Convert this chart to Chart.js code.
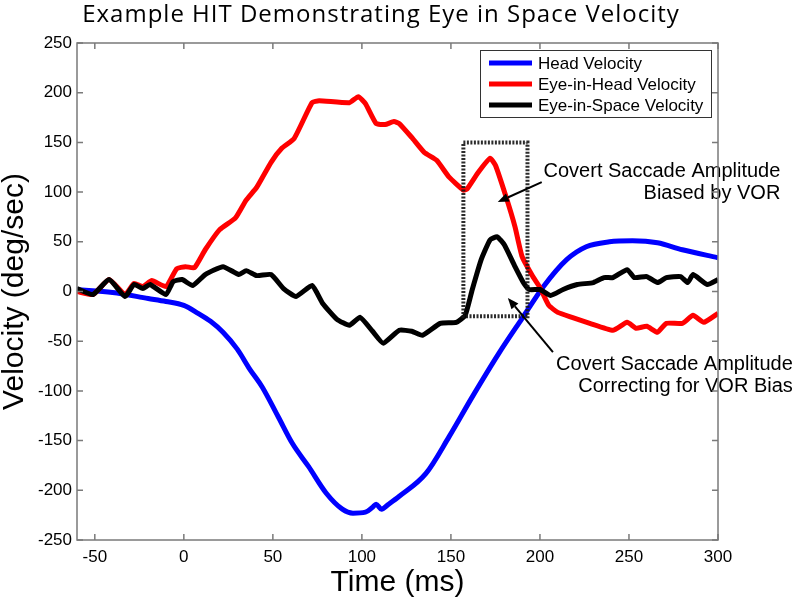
<!DOCTYPE html>
<html>
<head>
<meta charset="utf-8">
<script src="https://cdn.jsdelivr.net/npm/chart.js@4.4.1/dist/chart.umd.min.js"></script>
<style>
  html, body { margin: 0; padding: 0; background: #fff; }
  #wrap { width: 794px; height: 601px; }
</style>
</head>
<body>
<div id="wrap"><canvas id="chart_hit"></canvas></div>
<script>
// chart text
const chartTitle = 'Example HIT Demonstrating Eye in Space Velocity';
const xTitle = 'Time (ms)';
const yTitle = 'Velocity (deg/sec)';
const seriesLabels = ['Head Velocity', 'Eye-in-Head Velocity', 'Eye-in-Space Velocity'];

// axis ticks
const xTicks = [-50, 0, 50, 100, 150, 200, 250, 300];
const yTicks = [-250, -200, -150, -100, -50, 0, 50, 100, 150, 200, 250];

// head velocity (blue)
const headTime = [-60, -40, -20, -10, 0, 8, 15, 22, 30, 37, 44, 53, 61, 70, 80, 89, 95, 102, 106, 108, 111, 115, 121, 136, 149, 162, 177, 190, 202, 215, 226, 239, 252, 266, 280, 300];
const headVel  = [2, -1, -7, -10, -14, -22, -30, -41, -58, -78, -96, -126, -153, -176, -203, -219, -223, -222, -217, -214, -219, -214, -206, -183, -146, -106, -62, -27, 5, 32, 45, 50, 51, 49, 42, 34];

// eye-in-head velocity (red)
const eyeHeadTime = [-60, -51, -42, -33, -28, -23, -18, -10, -4, 1, 6, 12, 20, 29, 35, 41, 49, 55, 62, 72, 76, 93, 98, 102, 108, 113, 118, 121, 128, 135, 142, 149, 157, 159, 165, 172, 175, 181, 186, 190, 196, 200, 205, 210, 218, 228, 241, 249, 254, 260, 266, 271, 280, 286, 292, 300];
const eyeHeadVel  = [0, -3, 12, -3, 8, 5, 11, 5, 23, 25, 24, 42, 62, 74, 92, 105, 130, 144, 154, 190, 192, 190, 196, 189, 169, 168, 171, 169, 155, 140, 132, 115, 102, 103, 119, 134, 127, 95, 65, 35, 15, 4, -14, -21, -26, -32, -39, -31, -37, -35, -41, -32, -32, -24, -31, -22];

// eye-in-space velocity (black)
const eyeSpaceTime = [-60, -51, -42, -33, -28, -23, -19, -10, -6, -1, 5, 12, 22, 31, 35, 41, 49, 56, 63, 72, 78, 86, 93, 99, 106, 112, 121, 128, 134, 144, 153, 158, 162, 167, 172, 176, 180, 186, 191, 194, 200, 206, 213, 221, 230, 236, 241, 249, 253, 260, 266, 271, 279, 283, 286, 294, 300];
const eyeSpaceVel  = [3, -3, 12, -5, 7, 3, 7, -3, 10, 12, 6, 17, 25, 17, 21, 16, 17, 3, -5, 6, -12, -28, -34, -26, -40, -52, -39, -40, -44, -32, -31, -24, 2, 32, 52, 55, 47, 25, 8, 2, 2, -4, 2, 7, 9, 14, 14, 22, 14, 15, 9, 14, 15, 9, 17, 7, 12];

// dotted box round the covert saccade
const boxTime = [157, 193, 193, 157, 157];
const boxVel  = [150, 150, -25, -25, 150];

// annotations (data coordinates)
const noteLines = [
  ['Covert Saccade Amplitude', 'Biased by VOR'],
  ['Covert Saccade Amplitude', 'Correcting for VOR Bias']
];
const noteAnchor = [[335, 115], [342, -79]];     // right end of first line, baseline
const arrowTail  = [[201, 110], [207.3, -61]];
const arrowHead  = [[176.3, 90], [182, -6.5]];

function toPoints(xs, ys) {
  return xs.map((x, i) => ({ x: x, y: ys[i] }));
}

const AXIS_GRAY = '#7a7a7a';
const TICK_FONT = '17px "Liberation Sans", Arial, sans-serif';

const matlabFrame = {
  id: 'matlabFrame',
  afterDatasetsDraw(chart) {
    const ctx = chart.ctx;
    const a = chart.chartArea;
    const xs = chart.scales.x, ys = chart.scales.y;
    ctx.save();

    // annotation text + arrows
    ctx.fillStyle = '#000';
    ctx.font = '20px "Liberation Sans", Arial, sans-serif';
    ctx.textAlign = 'right';
    ctx.textBaseline = 'alphabetic';
    noteLines.forEach((lines, i) => {
      const px = xs.getPixelForValue(noteAnchor[i][0]);
      const py = ys.getPixelForValue(noteAnchor[i][1]);
      lines.forEach((t, j) => ctx.fillText(t, px, py + j * 22));
    });
    arrowTail.forEach((tail, i) => {
      const x0 = xs.getPixelForValue(tail[0]), y0 = ys.getPixelForValue(tail[1]);
      const x1 = xs.getPixelForValue(arrowHead[i][0]), y1 = ys.getPixelForValue(arrowHead[i][1]);
      const ang = Math.atan2(y1 - y0, x1 - x0);
      const len = 11, half = 4.5;
      const bx = x1 - len * Math.cos(ang), by = y1 - len * Math.sin(ang);
      ctx.strokeStyle = '#000';
      ctx.lineWidth = 2;
      ctx.beginPath();
      ctx.moveTo(x0, y0);
      ctx.lineTo(bx, by);
      ctx.stroke();
      ctx.beginPath();
      ctx.moveTo(x1, y1);
      ctx.lineTo(bx + half * Math.sin(ang), by - half * Math.cos(ang));
      ctx.lineTo(bx - half * Math.sin(ang), by + half * Math.cos(ang));
      ctx.closePath();
      ctx.fill();
    });

    // box and inward ticks
    ctx.strokeStyle = AXIS_GRAY;
    ctx.lineWidth = 1.5;
    ctx.strokeRect(a.left, a.top, a.right - a.left, a.bottom - a.top);
    ctx.beginPath();
    xTicks.forEach(v => {
      const p = xs.getPixelForValue(v);
      ctx.moveTo(p, a.bottom); ctx.lineTo(p, a.bottom - 6);
      ctx.moveTo(p, a.top); ctx.lineTo(p, a.top + 6);
    });
    yTicks.forEach(v => {
      const p = ys.getPixelForValue(v);
      ctx.moveTo(a.left, p); ctx.lineTo(a.left + 6, p);
      ctx.moveTo(a.right, p); ctx.lineTo(a.right - 6, p);
    });
    ctx.stroke();

    // legend
    const lx = 480, ly = 50, lw = 231, lh = 67;
    ctx.fillStyle = '#fff';
    ctx.fillRect(lx, ly, lw, lh);
    ctx.strokeStyle = '#333';
    ctx.lineWidth = 1;
    ctx.strokeRect(lx + 0.5, ly + 0.5, lw, lh);
    ctx.font = TICK_FONT;
    ctx.textAlign = 'left';
    ctx.textBaseline = 'middle';
    const colors = chart.data.datasets.slice(0, 3).map(d => d.borderColor);
    seriesLabels.forEach((lab, i) => {
      const y = ly + 13 + i * 21;
      ctx.strokeStyle = colors[i];
      ctx.lineWidth = 5;
      ctx.beginPath();
      ctx.moveTo(489, y); ctx.lineTo(532, y);
      ctx.stroke();
      ctx.fillStyle = '#000';
      ctx.fillText(lab, 538, y + 1);
    });

    // title
    ctx.font = '24px "Open Sans", sans-serif';
    ctx.letterSpacing = '1px';
    ctx.textAlign = 'center';
    ctx.textBaseline = 'middle';
    ctx.fillStyle = '#000';
    ctx.fillText(chartTitle, 381, 15);
    ctx.restore();
  }
};

const chart = new Chart('chart_hit', {
  type: 'line',
  data: {
    datasets: [
      {
        label: seriesLabels[0],
        data: toPoints(headTime, headVel),
        borderColor: '#0000ff',
        borderWidth: 5,
        pointRadius: 0,
        cubicInterpolationMode: 'monotone',
        order: 3
      },
      {
        label: seriesLabels[1],
        data: toPoints(eyeHeadTime, eyeHeadVel),
        borderColor: '#ff0000',
        borderWidth: 5,
        pointRadius: 0,
        tension: 0.15,
        order: 2
      },
      {
        label: seriesLabels[2],
        data: toPoints(eyeSpaceTime, eyeSpaceVel),
        borderColor: '#000000',
        borderWidth: 5,
        pointRadius: 0,
        tension: 0.15,
        order: 1
      },
      {
        label: 'box',
        data: toPoints(boxTime, boxVel),
        borderColor: 'rgba(20,20,20,0.9)',
        borderWidth: 4,
        borderDash: [2, 1.5],
        pointRadius: 0,
        tension: 0,
        order: 0
      }
    ]
  },
  options: {
    responsive: true,
    maintainAspectRatio: false,
    animation: false,
    layout: { padding: { top: 43, right: 76, bottom: 0, left: 0 } },
    plugins: {
      legend: { display: false },
      tooltip: { enabled: false },
      title: { display: false }
    },
    scales: {
      x: {
        type: 'linear',
        min: -60,
        max: 300,
        afterBuildTicks: s => { s.ticks = xTicks.map(v => ({ value: v })); },
        afterFit: s => { s.height = 61; },
        grid: { display: false, drawTicks: false },
        border: { display: false },
        ticks: { color: '#000', padding: 7, maxRotation: 0, font: { family: '"Liberation Sans", Arial, sans-serif', size: 17 } },
        title: { display: true, text: xTitle, color: '#000', padding: { top: 0, bottom: 3 }, font: { family: '"Liberation Sans", Arial, sans-serif', size: 30, lineHeight: 1 } }
      },
      y: {
        min: -250,
        max: 250,
        afterBuildTicks: s => { s.ticks = yTicks.map(v => ({ value: v })); },
        afterFit: s => { s.width = 77; },
        grid: { display: false, drawTicks: false },
        border: { display: false },
        ticks: { color: '#000', padding: 5, font: { family: '"Liberation Sans", Arial, sans-serif', size: 17 } },
        title: { display: true, text: yTitle, color: '#000', padding: { top: 0, bottom: 0 }, font: { family: '"Liberation Sans", Arial, sans-serif', size: 30, lineHeight: 1 } }
      }
    }
  },
  plugins: [matlabFrame]
});
</script>
</body>
</html>
